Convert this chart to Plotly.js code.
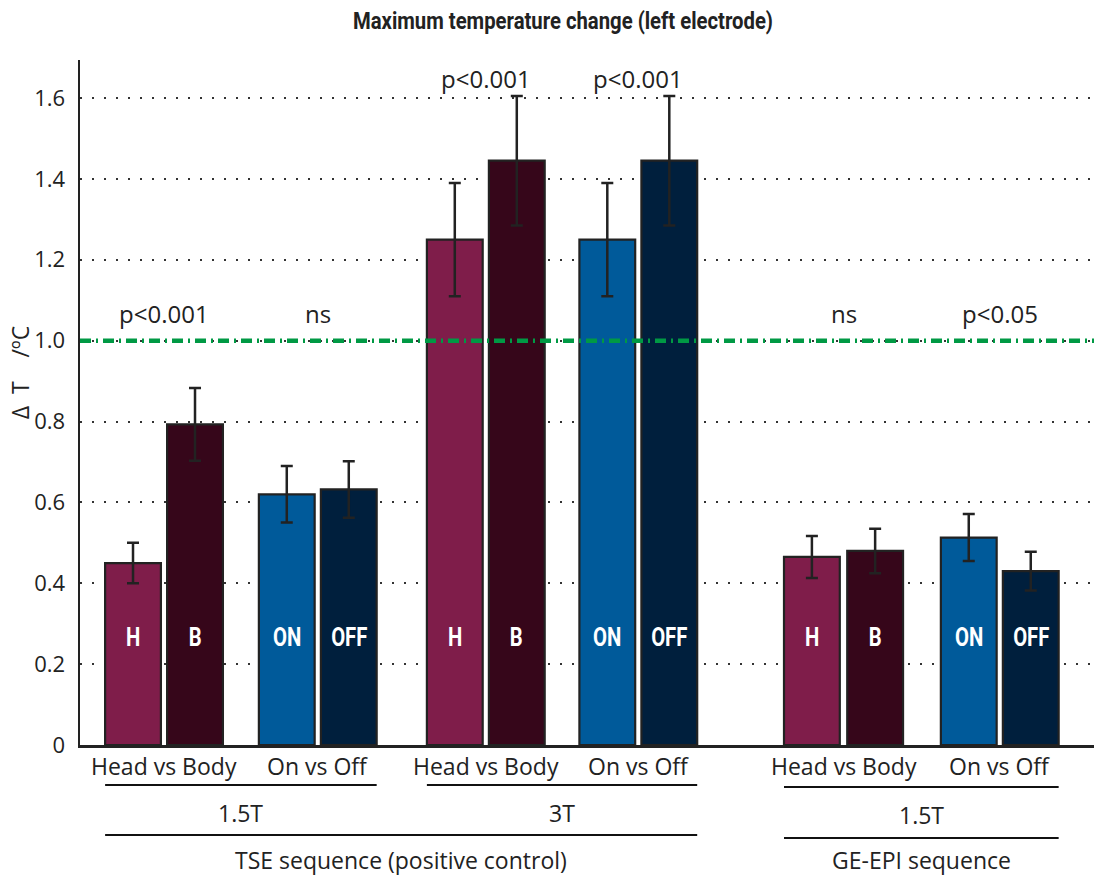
<!DOCTYPE html>
<html>
<head>
<meta charset="utf-8">
<script src="https://cdn.plot.ly/plotly-3.0.1.min.js"></script>
<style>html,body{margin:0;padding:0;background:#fff;}#chart{width:1094px;height:876px;}</style>
</head>
<body>
<div id="chart"></div>
<script>
// ---- data ----
var groupNames = ["TSE 1.5T", "TSE 3T", "GE-EPI 1.5T"];
var headVals = [0.45, 1.25, 0.465];
var headErr  = [0.05, 0.14, 0.052];
var bodyVals = [0.793, 1.445, 0.48];
var bodyErr  = [0.09, 0.16, 0.055];
var onVals   = [0.62, 1.25, 0.513];
var onErr    = [0.07, 0.14, 0.058];
var offVals  = [0.632, 1.445, 0.43];
var offErr   = [0.07, 0.16, 0.048];
var barLetters = ["H", "B", "ON", "OFF"];
var pairLabels = ["Head vs Body", "On vs Off"];
var pValues = ["p<0.001", "ns", "p<0.001", "p<0.001", "ns", "p<0.05"];
var fieldLabels = ["1.5T", "3T", "1.5T"];
var sequenceLabels = ["TSE sequence (positive control)", "GE-EPI sequence"];
var thresholdValue = 1.0;
var yTickVals = [0, 0.2, 0.4, 0.6, 0.8, 1.0, 1.2, 1.4, 1.6];
var yTickText = ["0", "0.2", "0.4", "0.6", "0.8", "1.0", "1.2", "1.4", "1.6"];

// ---- layout positions (not data) ----
var headPos = [0, 5.19, 10.95];
var bodyPos = [1, 6.19, 11.97];
var onPos   = [2.48, 7.65, 13.48];
var offPos  = [3.48, 8.65, 14.48];
var barW = 0.9;
var colors = {H: "#7f1d4a", B: "#36061a", ON: "#005a9a", OFF: "#001f3d"};
var boldFont = "Roboto, 'Open Sans', sans-serif";
var regular = "'Open Sans', 'Noto Sans', sans-serif";
var ink = "#222";
var labelSize = 23;

function barTrace(name, xs, ys, errs, color) {
  return {
    type: "bar", name: name, x: xs, y: ys, width: barW,
    marker: {color: color, line: {color: ink, width: 2.2}},
    error_y: {type: "data", array: errs, visible: true, color: ink, thickness: 2.5, width: 6},
    hoverinfo: "y", showlegend: false
  };
}

var traces = [
  barTrace("Head", headPos, headVals, headErr, colors.H),
  barTrace("Body", bodyPos, bodyVals, bodyErr, colors.B),
  barTrace("On", onPos, onVals, onErr, colors.ON),
  barTrace("Off", offPos, offVals, offErr, colors.OFF)
];

var annotations = [];
var shapes = [];

// letters inside bars
var posSets = [headPos, bodyPos, onPos, offPos];
for (var k = 0; k < 4; k++) {
  for (var g = 0; g < 3; g++) {
    annotations.push({x: posSets[k][g], y: 0.267, xref: "x", yref: "y", text: "<b>" + barLetters[k] + "</b>",
      showarrow: false, font: {family: boldFont, size: 26, color: "#ffffff"}});
  }
}

// p-values
var pY = [1.068, 1.068, 1.649, 1.649, 1.068, 1.068];
var pX = [];
for (var g = 0; g < 3; g++) {
  pX.push((headPos[g] + bodyPos[g]) / 2);
  pX.push((onPos[g] + offPos[g]) / 2);
}
for (var i = 0; i < pValues.length; i++) {
  annotations.push({x: pX[i], y: pY[i], xref: "x", yref: "y", text: pValues[i], showarrow: false,
    font: {family: regular, size: 24, color: ink}});
}

// pair labels under axis
for (var g = 0; g < 3; g++) {
  annotations.push({x: (headPos[g] + bodyPos[g]) / 2, y: -0.031, xref: "x", yref: "paper", text: pairLabels[0],
    showarrow: false, yanchor: "middle", font: {family: regular, size: labelSize, color: ink}});
  annotations.push({x: (onPos[g] + offPos[g]) / 2, y: -0.031, xref: "x", yref: "paper", text: pairLabels[1],
    showarrow: false, yanchor: "middle", font: {family: regular, size: labelSize, color: ink}});
  var yl = g === 2 ? -0.0613 : -0.0584;
  shapes.push({type: "line", xref: "x", yref: "paper", x0: headPos[g] - barW / 2, x1: offPos[g] + barW / 2,
    y0: yl, y1: yl, line: {color: "#111", width: 2}});
  annotations.push({x: (headPos[g] + offPos[g]) / 2, y: g === 2 ? -0.102 : -0.0993, xref: "x", yref: "paper",
    text: fieldLabels[g], showarrow: false, yanchor: "middle", font: {family: regular, size: labelSize, color: ink}});
}
// sequence lines
shapes.push({type: "line", xref: "x", yref: "paper", x0: headPos[0] - barW / 2, x1: offPos[1] + barW / 2,
  y0: -0.1314, y1: -0.1314, line: {color: "#111", width: 2}});
shapes.push({type: "line", xref: "x", yref: "paper", x0: headPos[2] - barW / 2, x1: offPos[2] + barW / 2,
  y0: -0.1358, y1: -0.1358, line: {color: "#111", width: 2}});
annotations.push({x: (headPos[0] + offPos[1]) / 2, y: -0.168, xref: "x", yref: "paper", text: sequenceLabels[0],
  showarrow: false, yanchor: "middle", font: {family: regular, size: labelSize, color: ink}});
annotations.push({x: (headPos[2] + offPos[2]) / 2, y: -0.168, xref: "x", yref: "paper", text: sequenceLabels[1],
  showarrow: false, yanchor: "middle", font: {family: regular, size: labelSize, color: ink}});

// threshold line
shapes.push({type: "line", xref: "paper", yref: "y", x0: 0, x1: 1, y0: thresholdValue, y1: thresholdValue,
  layer: "above", line: {color: "#009944", width: 4.5, dash: "11px,5px,2px,5px"}});

// y axis title
annotations.push({x: -0.059, y: 0.543, xref: "paper", yref: "paper",
  text: "Δ\u00a0\u00a0T\u00a0\u00a0\u00a0\u00a0/ºC", textangle: -90,
  showarrow: false, xanchor: "center", yanchor: "middle", font: {family: regular, size: 23, color: ink}});

var layout = {
  width: 1094, height: 876,
  margin: {l: 80, r: 0, t: 60, b: 131, pad: 0},
  paper_bgcolor: "#ffffff", plot_bgcolor: "#ffffff",
  title: {text: "<b>Maximum temperature change (left electrode)</b>", xref: "container", yref: "container",
    x: 0.5146, y: 0.976, xanchor: "center", yanchor: "middle",
    font: {family: boldFont, size: 24, color: ink}},
  barmode: "overlay",
  xaxis: {range: [-0.855, 15.5], showgrid: false, zeroline: false, showticklabels: false, ticks: "",
    showline: true, linecolor: ink, linewidth: 2.5, fixedrange: true},
  yaxis: {range: [0, 1.694], tickvals: yTickVals, ticktext: yTickText, showgrid: true,
    gridcolor: "#333", gridwidth: 2, griddash: "2px,10px", zeroline: false,
    showline: true, linecolor: ink, linewidth: 2.5, ticks: "", ticklabelstandoff: 8,
    tickfont: {family: regular, size: 22, color: ink}, fixedrange: true},
  annotations: annotations,
  shapes: shapes
};

function condense(el, factor) {
  var w = el.getComputedTextLength();
  el.setAttribute("textLength", (w * factor).toFixed(1));
  el.setAttribute("lengthAdjust", "spacingAndGlyphs");
}

Plotly.newPlot("chart", traces, layout, {displayModeBar: false, staticPlot: true}).then(function (gd) {
  var t = gd.querySelector(".gtitle");
  if (t) condense(t, 420 / t.getComputedTextLength());
  var texts = gd.querySelectorAll(".annotation-text");
  texts.forEach(function (el) {
    var s = el.textContent;
    if (barLetters.indexOf(s) >= 0) condense(el, 0.78);
  });
});
</script>
</body>
</html>
